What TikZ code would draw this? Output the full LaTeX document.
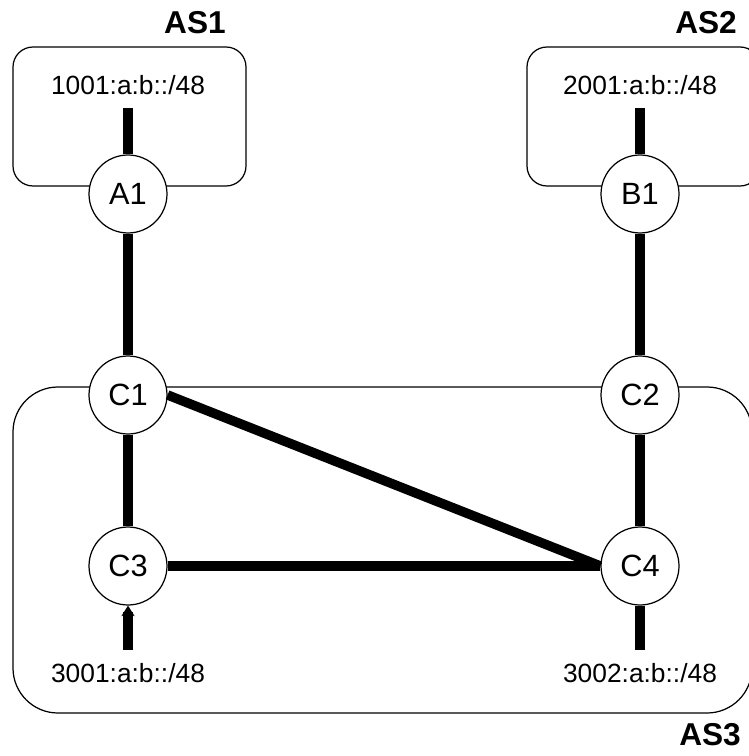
\documentclass[tikz,border=0pt]{standalone}
\usepackage{fontspec}
\setmainfont{Liberation Sans}
\usetikzlibrary{arrows.meta}

\tikzset{
  router/.style={draw, circle, fill=white, line width=0.7pt, minimum size=1.56cm, inner sep=0pt, font=\fontsize{17.5}{20}\selectfont},
  netprefix/.style={inner sep=0pt, outer sep=7.5pt, font=\fontsize{15}{17}\selectfont},
  asname/.style={font=\fontsize{18}{20}\selectfont\bfseries},
  asbox/.style={draw, line width=0.7pt},
  link/.style={line width=0.19cm}
}

\begin{document}
\begin{tikzpicture}[x=0.02cm, y=-0.02cm]
            \useasboundingbox (0,0) rectangle (749,756);

            % AS boxes
            \draw[asbox, rounded corners=0.4cm] (13,47) rectangle (246,186);
            \draw[asbox, rounded corners=0.4cm] (527,47) rectangle (760,186);
            \draw[asbox, rounded corners=0.9cm] (13,387) rectangle (752,713);

            \node[asname] (as1) at (195,23) {AS1};
            \node[asname] (as2) at (706,23) {AS2};
            \node[asname] (as3) at (710,735) {AS3};

            % prefixes
            \node[netprefix] (p1) at (128,85) {1001:a:b::/48};
            \node[netprefix] (p2) at (640,85) {2001:a:b::/48};
            \node[netprefix] (p3) at (128,673) {3001:a:b::/48};
            \node[netprefix] (p4) at (640,673) {3002:a:b::/48};

            % routers
            \node[router] (A1) at (128,194) {A1};
            \node[router] (B1) at (640,194) {B1};
            \node[router] (C1) at (128,395) {C1};
            \node[router] (C2) at (640,395) {C2};
            \node[router] (C3) at (128,566) {C3};
            \node[router] (C4) at (640,566) {C4};

            \draw[link] (p1) -- (A1);
            \draw[link] (p2) -- (B1);
            \draw[link, -{Stealth[length=6pt, width=7.5pt]}] (p3) -- (C3);
            \draw[link] (p4) -- (C4);

            \draw[link] (A1) -- (C1);
            \draw[link] (B1) -- (C2);
            \draw[link] (C1) -- (C3);
            \draw[link] (C2) -- (C4);
            \draw[link] (C1.east) -- (C4.west);
            \draw[link] (C3) -- (C4.west);
          \end{tikzpicture}
\end{document}
